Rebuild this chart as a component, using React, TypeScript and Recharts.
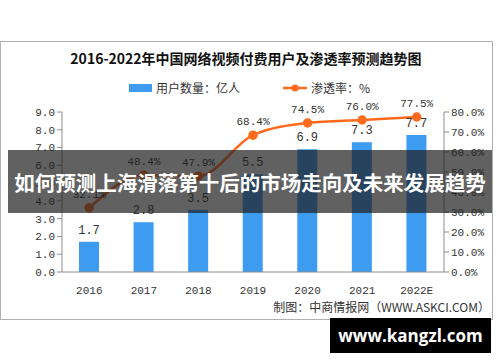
import React from 'react';
import { ComposedChart, Bar, Line, XAxis, YAxis, LabelList } from 'recharts';

// years, users (100 million) and penetration rate (%)
const years = ['2016', '2017', '2018', '2019', '2020', '2021', '2022E'];
const users = [1.7, 2.8, 3.5, 5.5, 6.9, 7.3, 7.7];
const rate = [32.1, 48.4, 47.9, 68.4, 74.5, 76.0, 77.5];

const leftTicks = [0, 1, 2, 3, 4, 5, 6, 7, 8, 9];
const rightTicks = [0, 10, 20, 30, 40, 50, 60, 70, 80];
const boundaryTicks = [0, 1, 2, 3, 4, 5, 6, 7];

const data = years.map((y, i) => ({ year: y, users: users[i], rate: rate[i] }));

const BLUE = '#3d9bf0';
const ORANGE = '#ff6a1c';
const AXIS = '#8c8c8c';
const tickFont = { fontFamily: '"Liberation Mono", "DejaVu Sans Mono", monospace', fontSize: 11, fill: '#333' };

const App: React.FC = () => {
    return (
        <div style={{ position: 'absolute', left: 0, top: 0, width: 500, height: 362, background: '#fff', overflow: 'hidden' }}>
            {/* chart frame */}
            <div style={{ position: 'absolute', left: 0, top: 41, width: 491, height: 277, border: '1px solid #b0b0b0' }} />

            <div style={{ position: 'absolute', left: 0, top: 48, width: 492, textAlign: 'center', fontFamily: '"Noto Sans CJK SC", serif', fontWeight: 700, fontSize: 14, color: '#111' }}>
                2016-2022年中国网络视频付费用户及渗透率预测趋势图
            </div>

            {/* legend */}
            <div style={{ position: 'absolute', left: 129, top: 79, display: 'flex', alignItems: 'center', fontFamily: '"Noto Sans CJK SC", sans-serif', fontSize: 12, color: '#333' }}>
                <span style={{ display: 'inline-block', width: 23, height: 8, background: BLUE, marginRight: 4 }} />
                <span>用户数量：亿人</span>
            </div>
            <div style={{ position: 'absolute', left: 283, top: 79, display: 'flex', alignItems: 'center', fontFamily: '"Noto Sans CJK SC", sans-serif', fontSize: 12, color: '#333' }}>
                <svg width={24} height={10} style={{ marginRight: 4 }}>
                    <line x1={0} y1={5} x2={24} y2={5} stroke={ORANGE} strokeWidth={2.5} />
                    <circle cx={12} cy={5} r={3.5} fill={ORANGE} />
                </svg>
                <span>渗透率：%</span>
            </div>

            <div style={{ position: 'absolute', left: 0, top: 0 }}>
                <ComposedChart width={500} height={362} data={data} margin={{ top: 112, right: 6, bottom: 60, left: 22 }}>
                    <XAxis xAxisId="grid" type="number" domain={[0, 7]} ticks={boundaryTicks} tick={false}
                        axisLine={false} tickLine={{ stroke: AXIS }} tickSize={5} height={0} />
                    <XAxis dataKey="year" axisLine={{ stroke: AXIS }} tickLine={false} tick={tickFont} tickMargin={8} height={30} />
                    <YAxis yAxisId="left" domain={[0, 9]} ticks={leftTicks} width={40} interval={0}
                        tickFormatter={(v: number) => v.toFixed(1)} axisLine={{ stroke: AXIS }} tickLine={{ stroke: AXIS }}
                        tickSize={5} tick={tickFont} />
                    <YAxis yAxisId="right" orientation="right" domain={[0, 80]} ticks={rightTicks} width={50} interval={0}
                        tickFormatter={(v: number) => v.toFixed(1) + '%'} axisLine={{ stroke: AXIS }} tickLine={{ stroke: AXIS }}
                        tickSize={5} tick={tickFont} />
                    <Bar yAxisId="left" dataKey="users" fill={BLUE} barSize={20} isAnimationActive={false}>
                        <LabelList dataKey="users" position="top" offset={8} formatter={(v: number) => v.toFixed(1)}
                            style={{ ...tickFont, fontSize: 12 }} />
                    </Bar>
                    <Line yAxisId="right" dataKey="rate" type="monotone" stroke={ORANGE} strokeWidth={2.5}
                        dot={{ r: 3.5, fill: ORANGE, stroke: ORANGE }} isAnimationActive={false}>
                        <LabelList dataKey="rate" position="top" offset={10} formatter={(v: number) => v.toFixed(1) + '%'}
                            style={tickFont} />
                    </Line>
                </ComposedChart>
            </div>

            <div style={{ position: 'absolute', right: 10, top: 298, fontFamily: '"Noto Sans CJK SC", sans-serif', fontSize: 12, color: '#333' }}>
                制图：中商情报网（WWW.ASKCI.COM）
            </div>

            {/* overlay banner */}
            <div style={{ position: 'absolute', left: 8, top: 150, width: 484, height: 63, background: 'rgba(30,30,30,0.7)', display: 'flex', alignItems: 'center', justifyContent: 'center' }}>
                <span style={{ fontFamily: '"Noto Sans CJK SC", sans-serif', fontWeight: 700, fontSize: 20.5, color: '#fff', whiteSpace: 'nowrap' }}>
                    如何预测上海滑落第十后的市场走向及未来发展趋势
                </span>
            </div>

            <div style={{ position: 'absolute', left: 330, top: 318, width: 161, height: 35, background: '#000', display: 'flex', alignItems: 'center', justifyContent: 'center' }}>
                <span style={{ fontFamily: '"Open Sans", sans-serif', fontWeight: 700, fontSize: 17, color: '#fff' }}>www.kangzl.com</span>
            </div>
        </div>
    );
};

export default App;
